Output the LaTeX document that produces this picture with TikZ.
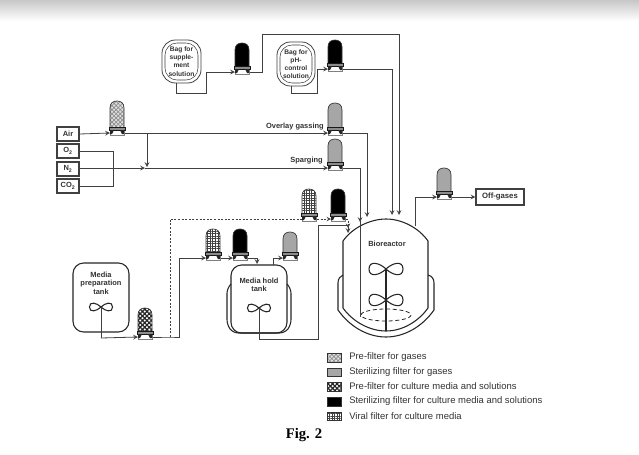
\documentclass[tikz,border=0pt]{standalone}
\usepackage{fontspec}
\setmainfont{Liberation Sans}
\newfontfamily\captionfont{Liberation Serif}
\usetikzlibrary{patterns.meta,calc}

\tikzset{>=stealth}
\tikzset{
	pipe/.style={line width=0.6pt,color=black!75},
	wall/.style={line width=0.8pt,color=black!85},
	label/.style={font=\fontsize{5.6}{6.4}\selectfont\bfseries,align=center,text=black!80,inner sep=0pt},
	baglabel/.style={font=\fontsize{5}{6.1}\selectfont\bfseries,align=center,text=black!80,inner sep=0pt},
	inlet/.style={draw=black!75,line width=0.8pt,fill=white,font=\fontsize{5.6}{6.4}\selectfont\bfseries,text=black!80,inner sep=0pt,minimum width=16.5pt,minimum height=10.5pt},
	legendtext/.style={font=\fontsize{7.1}{8}\selectfont,text=black!80,anchor=west,inner sep=0pt},
	swatch/.style={draw=black!80,line width=0.7pt,minimum width=10pt,minimum height=6.5pt,inner sep=0pt},
	gasprefilter/.style={preaction={fill=black!12},pattern={Hatch[angle=45,distance=2.2pt,line width=0.5pt]},pattern color=black!45},
	gassterile/.style={fill=black!35},
	liquidprefilter/.style={preaction={fill=white},pattern={Hatch[angle=45,distance=2.4pt,line width=0.95pt]},pattern color=black!85},
	liquidsterile/.style={fill=black},
	viralfilter/.style={preaction={fill=white},pattern={Hatch[angle=0,distance=1.9pt,line width=0.55pt]},pattern color=black!75}
}

% #1 dome height, #2 name, #3 x, #4 y of the pipe, #5 cartridge style
\newcommand{\filterunit}[5][29]{
	\draw[line width=0.5pt,draw=black!80,#5] (#3-7,#4-5) -- (#3-7,#4-#1+7) .. controls (#3-7,#4-#1+2) and (#3-4,#4-#1) .. (#3,#4-#1) .. controls (#3+4,#4-#1) and (#3+7,#4-#1+2) .. (#3+7,#4-#1+7) -- (#3+7,#4-5) -- cycle;
	\draw[line width=0.4pt,draw=black!50,fill=white] (#3-7,#4-3) rectangle (#3+7,#4+2);
	\draw[line width=0.5pt,draw=black!90,fill=black!45] (#3-8,#4-6) rectangle (#3+8,#4-3);
	\fill[black!85] (#3-7,#4-3) -- (#3-3,#4-3) -- (#3-5,#4+1) -- (#3-7,#4+1) -- cycle;
	\fill[black!85] (#3+7,#4-3) -- (#3+3,#4-3) -- (#3+5,#4+1) -- (#3+7,#4+1) -- cycle;
	\coordinate (#2-in) at (#3-7,#4);
	\coordinate (#2-out) at (#3+8,#4);
}
% #1 name, #2 x, #3 y, #4 scale
\newcommand{\impeller}[4]{
	\coordinate (#1) at (#2,#3);
	\draw[wall,shift={(#2,#3)},scale=#4] (0,0) .. controls (-6,-6) and (-17,-9) .. (-17,0) .. controls (-17,9) and (-6,6) .. (0,0) .. controls (6,-6) and (17,-9) .. (17,0) .. controls (17,9) and (6,6) .. (0,0);
}

\begin{document}
\begin{tikzpicture}[x=0.75pt,y=-0.75pt]
	\useasboundingbox (0,0) rectangle (639,454);
	\fill[white] (0,0) rectangle (639,454);
	\shade[top color=black!22,bottom color=white] (0,0) rectangle (639,21);

	% gas inlets
	\node[inlet] (air) at (68,134) {Air};
	\node[inlet] (otwo) at (68,151) {O\textsubscript{2}};
	\node[inlet] (ntwo) at (68,169) {N\textsubscript{2}};
	\node[inlet] (cotwo) at (68,186) {CO\textsubscript{2}};

	% bags
	\node[baglabel] (bagone) at (181.5,61.5) {Bag for\\supple-\\ment\\solution};
	\node[baglabel] (bagtwo) at (296,64) {Bag for\\pH-\\control\\solution};
	\draw[pipe,rounded corners=10pt] (162,40) rectangle (201,83);
	\draw[pipe,line width=0.4pt,rounded corners=9pt] (165,43) rectangle (198,80);
	\draw[pipe,rounded corners=10pt] (277,42) rectangle (315,86);
	\draw[pipe,line width=0.4pt,rounded corners=9pt] (280,45) rectangle (312,83);

	% filters
	\filterunit{bagonefilter}{242}{72}{liquidsterile}
	\filterunit{bagtwofilter}{335}{69}{liquidsterile}
	\filterunit[32]{airfilter}{117}{133}{gasprefilter}
	\filterunit[30]{overlayfilter}{335}{133}{gassterile}
	\filterunit{spargefilter}{335}{168}{gassterile}
	\filterunit[30]{viraltop}{309}{219}{viralfilter}
	\filterunit[30]{steriletop}{338}{219}{liquidsterile}
	\filterunit{offgasfilter}{444}{197}{gassterile}
	\filterunit{viralhold}{213}{258}{viralfilter}
	\filterunit{sterilehold}{240}{258}{liquidsterile}
	\filterunit[26]{ventfilter}{290}{258}{gassterile}
	\filterunit{prepfilter}{145}{337}{liquidprefilter}

	\node[label,anchor=east] (overlay) at (324,127) {Overlay gassing};
	\node[label,anchor=east] (sparging) at (323,161) {Sparging};

	% tanks
	\draw[wall,rounded corners=8pt] (73,263) rectangle (129,332);
	\node[label] (preptext) at (101,283) {Media\\preparation\\tank};
	\draw[wall,rounded corners=8pt] (231,265) rectangle (287,333);
	\draw[wall,rounded corners=4pt] (231,284) -- (227,288) -- (227,325) -- (233,333) -- (285,333) -- (291,325) -- (291,288) -- (287,284);
	\node[label] (holdtext) at (259,285) {Media hold\\tank};
	\impeller{prepimp}{101}{307}{0.68}
	\impeller{holdimp}{259}{308}{0.68}

	% bioreactor
	\coordinate (topone) at (392,215);
	\coordinate (toptwo) at (399,215);
	\coordinate (overlayport) at (367,217);
	\coordinate (spargeport) at (360,222);
	\coordinate (mediaport) at (348,233);
	\coordinate (ventport) at (415,226);
	\draw[wall] (343,308) -- (343,241) .. controls (352,228) and (370,219) .. (386,219) .. controls (402,219) and (419,228) .. (428,241) -- (428,308) .. controls (418,322) and (402,331) .. (386,331) .. controls (370,331) and (353,322) .. (343,308) -- cycle;
	\draw[wall] (343,275) .. controls (340,276) and (338,279) .. (338,283) -- (338,310) .. controls (350,327) and (368,337) .. (386,337) .. controls (404,337) and (422,327) .. (434,310) -- (434,283) .. controls (434,279) and (432,276) .. (428,275);
	\node[label] (biotext) at (387,244) {Bioreactor};
	\impeller{upperimp}{386}{269}{1}
	\impeller{lowerimp}{386}{300}{1}
	\coordinate (shaftend) at (386,331);
	\draw[wall] (upperimp) -- (shaftend);
	\draw[wall,line width=0.6pt,densely dashed] (386,315) ellipse (25 and 6);
	\coordinate (spargeend) at (360,317);

	% off-gas
	\node[draw=black!75,line width=0.8pt,font=\fontsize{5.8}{7}\selectfont\bfseries,text=black!80,fill=white,minimum width=36pt,minimum height=12pt,inner sep=0pt] (offgases) at (500,197) {Off-gases};
	\draw[pipe,->] (ventport) -- (ventport |- offgasfilter-in) -- (offgasfilter-in);
	\draw[pipe,->] (offgasfilter-out) -- (offgases.west);

	% bag feeds
	\coordinate (bagonefoot) at (176,83);
	\coordinate (bagtwofoot) at (291,86);
	\draw[pipe,->] (bagonefoot) |- (206,93) |- (bagonefilter-in);
	\draw[pipe,->] (bagtwofoot) |- (317,93) |- (bagtwofilter-in);
	\draw[pipe,->] (bagonefilter-out) -| (262,34) -| (toptwo);
	\draw[pipe,->] (bagtwofilter-out) -| (topone);

	% gases
	\coordinate (airtee) at (147,133);
	\coordinate (gastee) at (145,168);
	\draw[pipe,->] (air.east) -- (airfilter-in);
	\draw[pipe,->] (airfilter-out) -- (overlayfilter-in);
	\draw[pipe,->] (airtee) -- (147,167);
	\draw[pipe,->] (ntwo.east |- gastee) -- (gastee);
	\draw[pipe,->] (gastee) -- (spargefilter-in);
	\draw[pipe] (otwo.east) -| (113,186) -- (cotwo.east);
	\draw[pipe,->] (overlayfilter-out) -| (overlayport);
	\draw[pipe] (spargefilter-out) -| (spargeend);
	\draw[pipe,->] (360,168) -- (spargeport);

	% media train
	\coordinate (prepshaft) at (101,338);
	\coordinate (bypass) at (170,337);
	\draw[pipe] (prepimp) -- (prepshaft);
	\draw[pipe,->] (prepshaft) -- (prepfilter-in);
	\draw[pipe,->] (prepfilter-out) -- (bypass) -- (179,337) |- (viralhold-in);
	\draw[pipe,->] (viralhold-out) -- (sterilehold-in);
	\draw[pipe,->] (sterilehold-out) -| (257,264);
	\draw[pipe,->] (273,265) |- (ventfilter-in);
	\draw[pipe,line width=0.5pt,dash pattern=on 1.5pt off 1.2pt] (bypass) |- (viraltop-in);
	\draw[pipe,line width=0.5pt,dash pattern=on 1.5pt off 1.2pt,->] (viraltop-out) -- (steriletop-in);
	\draw[pipe,line width=0.5pt,dash pattern=on 1.5pt off 1.2pt,->] (steriletop-out) -| (348,228);
	\draw[pipe] (holdimp) |- (318,339) |- (336,225);
	\draw[pipe,->] (318,225) -| (mediaport);

	% key
	\node[swatch,gasprefilter] (keyone) at (334.5,358) {};
	\node[swatch,gassterile] (keytwo) at (334.5,372.5) {};
	\node[swatch,liquidprefilter] (keythree) at (334.5,387) {};
	\node[swatch,liquidsterile] (keyfour) at (334.5,402) {};
	\node[swatch,viralfilter] (keyfive) at (334.5,416.5) {};
	\node[legendtext] (textone) at (349,357) {Pre-filter for gases};
	\node[legendtext] (texttwo) at (349,372) {Sterilizing filter for gases};
	\node[legendtext] (textthree) at (349,386.5) {Pre-filter for culture media and solutions};
	\node[legendtext] (textfour) at (349,401) {Sterilizing filter for culture media and solutions};
	\node[legendtext] (textfive) at (349,416) {Viral filter for culture media};

	\node[font=\captionfont\bfseries\fontsize{11}{13}\selectfont,inner sep=0pt] (figtext) at (304,435) {Fig. 2};
\end{tikzpicture}
\end{document}
